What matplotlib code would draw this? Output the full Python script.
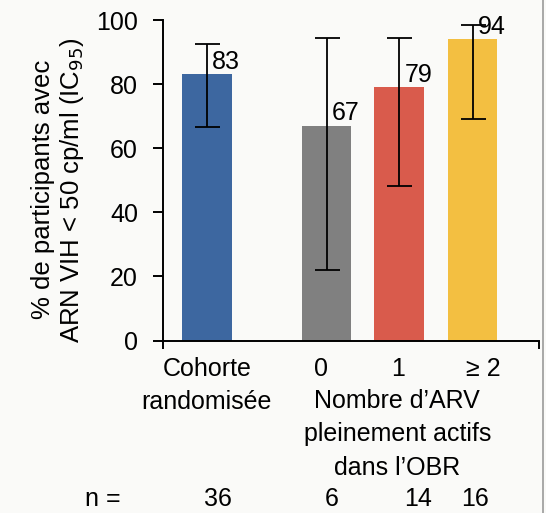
#!/usr/bin/env python3

# Virological response (< 50 cp/ml) by cohort and number of fully active ARVs

import numpy as np
import matplotlib.pyplot as plt
from matplotlib.lines import Line2D

plt.rcParams['font.family'] = ['Liberation Sans', 'DejaVu Sans']

# data
categories = ['Cohorte\nrandomisée', '0', '1', '\u2265 2']
pct = [83, 67, 79, 94]
ci_low = [66.6, 22.0, 48.3, 69.2]
ci_high = [92.6, 94.3, 94.3, 98.5]
n_counts = [36, 6, 14, 16]
group_title = 'Nombre d\u2019ARV\npleinement actifs\ndans l\u2019OBR'
ylabel = '% de participants avec\nARN VIH < 50 cp/ml (IC$_{95}$)'

# layout
xpos = np.array([0.0, 1.64, 2.63, 3.64])
cat_x = [0.0, 1.56, 2.62, 3.79]
n_x = [0.15, 1.71, 2.90, 3.67]
colors = ['#3D67A0', '#808080', '#D95B4C', '#F3BF41']
bg = '#FAFAF8'
fs = 18

fig = plt.figure(figsize=(5.46, 5.13), dpi=100, facecolor=bg)
ax = fig.add_axes([163/546, 1-340.5/513, (539-163)/546, 320.5/513])
ax.set_facecolor(bg)

ax.bar(xpos, pct, width=0.68, color=colors, zorder=2)
err = [np.array(pct) - np.array(ci_low), np.array(ci_high) - np.array(pct)]
ax.errorbar(xpos, pct, yerr=err, fmt='none', ecolor='black', elinewidth=1.3,
            capsize=9, capthick=1.3, zorder=3)

for x, v in zip(xpos, pct):
    ax.annotate(str(v), xy=(x, v), xytext=(4, 9), textcoords='offset points',
                ha='left', va='center', fontsize=fs)

ax.set_xlim(-0.6, 4.55)
ax.set_ylim(0, 100)
ax.set_yticks([0, 20, 40, 60, 80, 100])
ax.tick_params(axis='y', length=7, width=1.4, pad=11, labelsize=fs)
ax.set_xticks([-0.6, 4.55])
ax.set_xticklabels([])
ax.tick_params(axis='x', length=6, width=1.4)
for s in ['top', 'right']:
    ax.spines[s].set_visible(False)
for s in ['left', 'bottom']:
    ax.spines[s].set_linewidth(1.4)

ax.set_ylabel(ylabel, fontsize=fs + 0.5, linespacing=1.15)
ax.yaxis.set_label_coords(-0.205, 0.47)

# category labels below the axis
tr = ax.get_xaxis_transform()
ax.text(cat_x[0], -0.14, categories[0], transform=tr, ha='center', va='center',
        fontsize=fs, linespacing=1.5)
for x, c in zip(cat_x[1:], categories[1:]):
    ax.text(x, -0.089, c, transform=tr, ha='center', va='center', fontsize=fs)
ax.text(2.61, -0.293, group_title, transform=tr, ha='center', va='center',
        fontsize=fs, linespacing=1.5)
ax.text(-1.42, -0.495, 'n =', transform=tr, ha='center', va='center', fontsize=fs)
for x, n in zip(n_x, n_counts):
    ax.text(x, -0.495, str(n), transform=tr, ha='center', va='center', fontsize=fs)

# thin frame line at the right edge
fig.add_artist(Line2D([543/546, 543/546], [0, 1], transform=fig.transFigure,
                      color='#9A9A9A', linewidth=1.2))

plt.savefig('out.png', dpi=100, facecolor=bg)
